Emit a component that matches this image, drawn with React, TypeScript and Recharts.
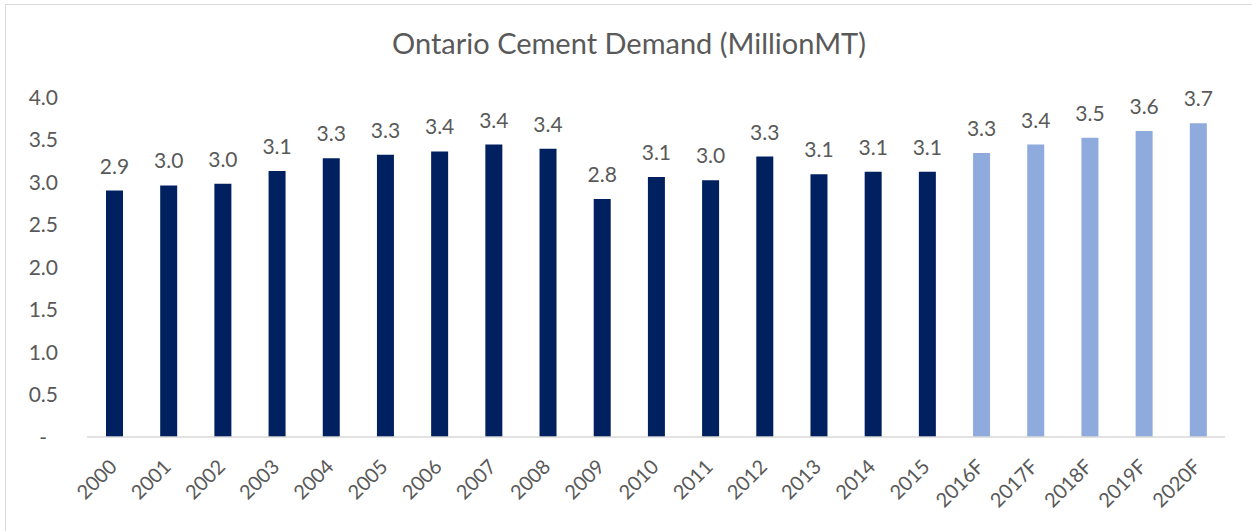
import React from "react";
import { BarChart, Bar, XAxis, YAxis, LabelList, Cell } from "recharts";

const years = [
  "2000", "2001", "2002", "2003", "2004", "2005", "2006", "2007", "2008", "2009",
  "2010", "2011", "2012", "2013", "2014", "2015", "2016F", "2017F", "2018F", "2019F", "2020F",
];

const demand = [
  2.9, 2.96, 2.98, 3.13, 3.28, 3.32, 3.36, 3.44, 3.39, 2.8,
  3.06, 3.02, 3.3, 3.09, 3.12, 3.12, 3.34, 3.44, 3.52, 3.6, 3.69,
];

const yTicks = [0, 0.5, 1, 1.5, 2, 2.5, 3, 3.5, 4];

const ACTUAL = "#002060";
const FORECAST = "#8FAADC";
const TEXT = "#595959";
const FONT = "Lato, 'Open Sans', sans-serif";

const data = years.map((year, i) => ({ year, demand: demand[i] }));

function YTick(props: any) {
  const { x, y, payload } = props;
  const v = payload.value as number;
  return (
    <text
      x={v === 0 ? x - 11 : x}
      y={y}
      dy="0.36em"
      textAnchor="end"
      fill={TEXT}
      fontSize={21}
      fontFamily={FONT}
    >
      {v === 0 ? "-" : v.toFixed(1)}
    </text>
  );
}

function XTick(props: any) {
  const { x, y, payload } = props;
  return (
    <text
      transform={`translate(${x + 4},${y + 23}) rotate(-45)`}
      textAnchor="end"
      fill={TEXT}
      fontSize={20}
      fontFamily={FONT}
    >
      {payload.value}
    </text>
  );
}

export default function App() {
  return (
    <div style={{ position: "absolute", left: 0, top: 0, width: 1252, height: 531, background: "#fff" }}>
      <div
        style={{
          position: "absolute",
          left: 5,
          top: 4,
          width: 1260,
          height: 540,
          border: "1.5px solid #d9d9d9",
          boxSizing: "border-box",
        }}
      />
      <div
        style={{
          position: "absolute",
          left: 6,
          width: 1246,
          top: 26,
          textAlign: "center",
          fontFamily: FONT,
          fontSize: 29,
          lineHeight: "34px",
          color: TEXT,
        }}
      >
        Ontario Cement Demand (MillionMT)
      </div>
      <div style={{ position: "absolute", left: 0, top: 0 }}>
        <BarChart
          width={1252}
          height={531}
          data={data}
          margin={{ top: 97, right: 27, bottom: 0, left: 0 }}
        >
          <XAxis
            dataKey="year"
            height={94}
            interval={0}
            tickLine={false}
            axisLine={{ stroke: "#d9d9d9", strokeWidth: 1.5 }}
            tick={<XTick />}
          />
          <YAxis
            width={87}
            domain={[0, 4]}
            ticks={yTicks}
            axisLine={false}
            tickLine={false}
            tickMargin={23}
            tick={<YTick />}
          />
          <Bar dataKey="demand" barSize={17} isAnimationActive={false}>
            {data.map((d) => (
              <Cell key={d.year} fill={d.year.endsWith("F") ? FORECAST : ACTUAL} />
            ))}
            <LabelList
              dataKey="demand"
              position="top"
              offset={17}
              formatter={(v: any) => Number(v).toFixed(1)}
              fill={TEXT}
              fontSize={21}
              fontFamily={FONT}
            />
          </Bar>
        </BarChart>
      </div>
    </div>
  );
}
